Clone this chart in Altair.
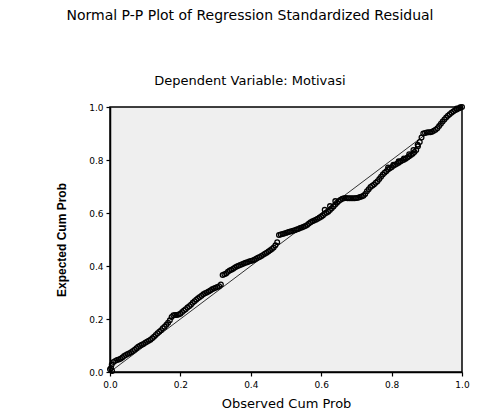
import altair as alt
import pandas as pd

# Observed cumulative probability (x) and expected cumulative probability (y)
obs_cum = [
    0.000, 0.005, 0.010, 0.015, 0.020, 0.025, 0.030, 0.035, 0.040, 0.045,
    0.050, 0.055, 0.060, 0.065, 0.070, 0.075, 0.080, 0.085, 0.090, 0.095,
    0.100, 0.105, 0.110, 0.115, 0.120, 0.125, 0.130, 0.135, 0.140, 0.145,
    0.150, 0.155, 0.160, 0.165, 0.170, 0.175, 0.180, 0.185, 0.190, 0.195,
    0.200, 0.205, 0.210, 0.215, 0.220, 0.225, 0.230, 0.235, 0.240, 0.245,
    0.250, 0.255, 0.260, 0.265, 0.270, 0.275, 0.280, 0.285, 0.290, 0.295,
    0.300, 0.305, 0.310, 0.315, 0.320, 0.325, 0.330, 0.335, 0.340, 0.345,
    0.350, 0.355, 0.360, 0.365, 0.370, 0.375, 0.380, 0.385, 0.390, 0.395,
    0.400, 0.405, 0.410, 0.415, 0.420, 0.425, 0.430, 0.435, 0.440, 0.445,
    0.450, 0.455, 0.460, 0.465, 0.470, 0.475, 0.480, 0.485, 0.490, 0.495,
    0.500, 0.505, 0.510, 0.515, 0.520, 0.525, 0.530, 0.535, 0.540, 0.545,
    0.550, 0.555, 0.560, 0.565, 0.570, 0.575, 0.580, 0.585, 0.590, 0.595,
    0.600, 0.605, 0.610, 0.615, 0.620, 0.625, 0.630, 0.635, 0.640, 0.645,
    0.650, 0.655, 0.660, 0.665, 0.670, 0.675, 0.680, 0.685, 0.690, 0.695,
    0.700, 0.705, 0.710, 0.715, 0.720, 0.725, 0.730, 0.735, 0.740, 0.745,
    0.750, 0.755, 0.760, 0.765, 0.770, 0.775, 0.780, 0.785, 0.790, 0.795,
    0.800, 0.805, 0.810, 0.815, 0.820, 0.825, 0.830, 0.835, 0.840, 0.845,
    0.850, 0.855, 0.860, 0.865, 0.870, 0.875, 0.880, 0.885, 0.890, 0.895,
    0.900, 0.905, 0.910, 0.915, 0.920, 0.925, 0.930, 0.935, 0.940, 0.945,
    0.950, 0.955, 0.960, 0.965, 0.970, 0.975, 0.980, 0.985, 0.990, 0.995,
    1.000,
    0.003, 0.006, 0.610, 0.625, 0.640, 0.790, 0.805, 0.820, 0.835, 0.850,
    0.862, 0.874, 0.985, 0.995,
]
exp_cum = [
    0.010, 0.028, 0.038, 0.042, 0.045, 0.047, 0.050, 0.055, 0.060, 0.064,
    0.068, 0.071, 0.075, 0.079, 0.084, 0.090, 0.095, 0.099, 0.103, 0.106,
    0.110, 0.114, 0.118, 0.122, 0.127, 0.133, 0.140, 0.146, 0.152, 0.158,
    0.165, 0.171, 0.178, 0.186, 0.195, 0.208, 0.214, 0.215, 0.215, 0.217,
    0.220, 0.226, 0.232, 0.237, 0.243, 0.248, 0.254, 0.261, 0.267, 0.273,
    0.278, 0.283, 0.288, 0.293, 0.297, 0.300, 0.304, 0.308, 0.312, 0.315,
    0.318, 0.321, 0.324, 0.330, 0.366, 0.369, 0.372, 0.378, 0.383, 0.386,
    0.390, 0.394, 0.398, 0.401, 0.404, 0.407, 0.409, 0.412, 0.414, 0.417,
    0.419, 0.421, 0.424, 0.427, 0.431, 0.434, 0.438, 0.442, 0.446, 0.450,
    0.455, 0.459, 0.464, 0.470, 0.478, 0.490, 0.517, 0.519, 0.521, 0.523,
    0.525, 0.527, 0.529, 0.531, 0.533, 0.535, 0.538, 0.540, 0.543, 0.545,
    0.548, 0.551, 0.555, 0.560, 0.565, 0.569, 0.572, 0.575, 0.578, 0.582,
    0.586, 0.591, 0.597, 0.601, 0.605, 0.611, 0.618, 0.625, 0.632, 0.639,
    0.645, 0.650, 0.654, 0.656, 0.657, 0.656, 0.656, 0.656, 0.656, 0.656,
    0.657, 0.658, 0.660, 0.662, 0.665, 0.672, 0.682, 0.690, 0.698, 0.703,
    0.708, 0.714, 0.720, 0.728, 0.737, 0.745, 0.752, 0.758, 0.764, 0.769,
    0.773, 0.778, 0.782, 0.786, 0.790, 0.794, 0.798, 0.801, 0.805, 0.809,
    0.814, 0.819, 0.824, 0.830, 0.838, 0.852, 0.868, 0.885, 0.900, 0.902,
    0.904, 0.905, 0.905, 0.907, 0.910, 0.914, 0.920, 0.928, 0.937, 0.945,
    0.953, 0.960, 0.967, 0.973, 0.978, 0.983, 0.988, 0.991, 0.994, 0.997,
    1.000,
    0.015, 0.004, 0.612, 0.626, 0.645, 0.772, 0.782, 0.795, 0.806, 0.822,
    0.838, 0.858, 0.994, 0.999,
]

diag_x = [0.0, 1.0]
diag_y = [0.0, 1.0]

x_ticks = [0.0, 0.2, 0.4, 0.6, 0.8, 1.0]
y_ticks = [0.0, 0.2, 0.4, 0.6, 0.8, 1.0]

pts = pd.DataFrame({"obs": obs_cum, "exp": exp_cum})
diag = pd.DataFrame({"obs": diag_x, "exp": diag_y})

x_enc = alt.X("obs:Q", scale=alt.Scale(domain=[0, 1], nice=False, zero=False),
              axis=alt.Axis(title="Observed Cum Prob", values=x_ticks, format=".1f"))
y_enc = alt.Y("exp:Q", scale=alt.Scale(domain=[0, 1], nice=False, zero=False),
              axis=alt.Axis(title="Expected Cum Prob", values=y_ticks, format=".1f"))

line = alt.Chart(diag).mark_line(color="black", strokeWidth=0.8).encode(x=x_enc, y=y_enc)
points = alt.Chart(pts).mark_point(shape="circle", filled=False, color="black",
                                   size=22, strokeWidth=1.3, opacity=1).encode(x=x_enc, y=y_enc)

chart = alt.layer(line, points).properties(
    width=352, height=265,
    autosize=alt.AutoSizeParams(type="none"),
    padding={"left": 110, "top": 107, "right": 33, "bottom": 38},
    background="white",
    title=alt.TitleParams(
        text="Normal P-P Plot of Regression Standardized Residual",
        subtitle="Dependent Variable: Motivasi",
        anchor="middle", dx=-36, offset=14, subtitlePadding=52,
        font="DejaVu Sans", fontSize=14, fontWeight="normal", color="black",
        subtitleFont="DejaVu Sans", subtitleFontSize=13, subtitleColor="black",
    ),
).configure_view(
    fill="#efefef", stroke="black", strokeWidth=1.5
).configure_axis(
    grid=False, domainColor="black", domainWidth=1.5, tickColor="black",
    tickSize=4, tickWidth=1.2, labelFont="DejaVu Sans", labelFontSize=9,
    labelColor="black", labelFlush=False, titleFont="DejaVu Sans", titleFontSize=12,
    titleFontWeight="normal", titleColor="black"
).configure_axisX(
    labelPadding=4, titlePadding=8, titleFontSize=13
).configure_axisY(
    labelPadding=3, titlePadding=20, titleFont="Liberation Sans", titleFontSize=12,
    titleFontWeight="bold"
)

chart.save("out.html", embed_options={"renderer": "svg", "actions": False})
